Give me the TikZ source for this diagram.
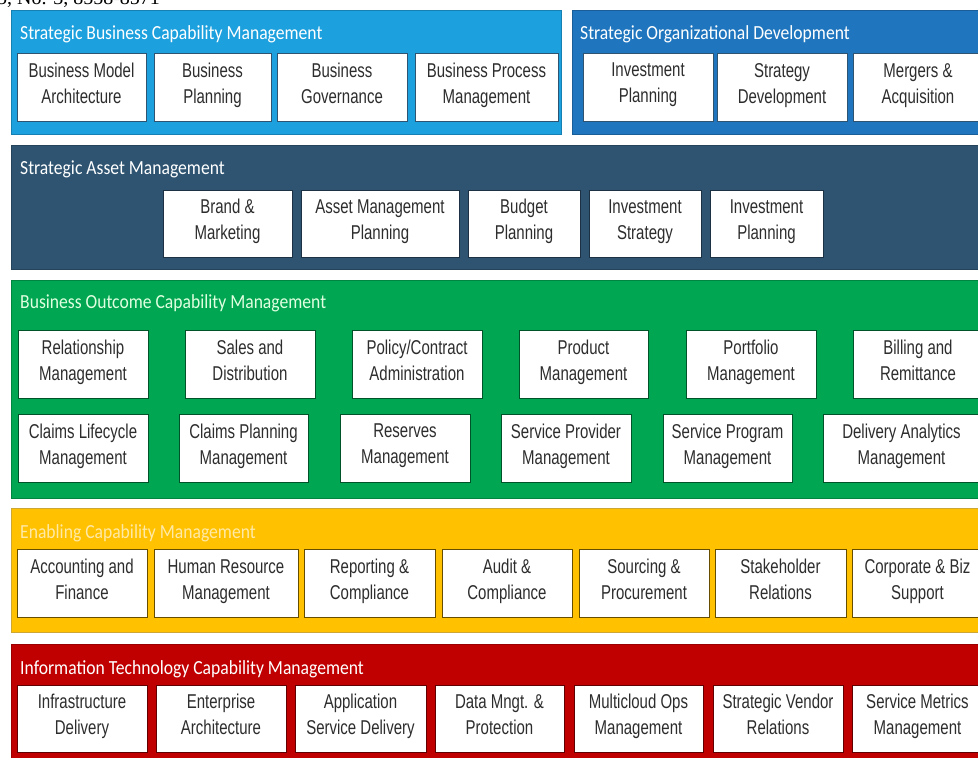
\documentclass[tikz,border=0pt]{standalone}
\usepackage{fontspec}
\setmainfont{Liberation Serif}
\newfontfamily\boxfont[FakeStretch=0.75]{Liberation Sans}
\newfontfamily\bandfont[FakeStretch=0.88]{Carlito}
\definecolor{sbcm}{RGB}{28,160,222}
\definecolor{sod}{RGB}{31,118,190}
\definecolor{sam}{RGB}{46,84,113}
\definecolor{bocm}{RGB}{0,166,81}
\definecolor{ecm}{RGB}{255,193,0}
\definecolor{itcm}{RGB}{192,0,0}
\definecolor{boxtext}{RGB}{45,45,45}
\tikzset{
  band/.style={fill=#1, draw=#1!80!black, line width=1pt},
  cap/.style={draw=#1, fill=white, line width=1pt, align=center, inner sep=0pt,
    minimum height=68, text=boxtext, font=\boxfont\fontsize{20}{26}\selectfont,
    execute at begin node=\rule{0pt}{24pt}, execute at end node=\strut},
  ttl/.style={anchor=west, inner sep=0pt, text=white, font=\bandfont\fontsize{20}{24}\selectfont}
}
\begin{document}
\begin{tikzpicture}[x=1pt, y=-1pt]
\useasboundingbox (0,0) rectangle (978,758);
\clip (0,0) rectangle (978,758);

\node[anchor=base west, inner sep=0pt, font=\fontsize{20}{24}\selectfont] (hdr) at (-3,4) {5, No. 3, 8558-8571};

% bands
\draw[band=sbcm] (11,10) rectangle (561,134);
\draw[band=sod] (572,10) rectangle (990,134);
\draw[band=sam] (11,145) rectangle (990,269);
\draw[band=bocm] (11,280) rectangle (990,498);
\draw[band=ecm, draw=ecm!60!gray] (11,508) rectangle (990,632);
\draw[band=itcm] (11,644) rectangle (990,770);

\node[ttl] (t1) at (20,34) {Strategic Business Capability Management};
\node[ttl] (t2) at (580,34) {Strategic Organizational Development};
\node[ttl] (t3) at (20,169) {Strategic Asset Management};
\node[ttl, text=green!12] (t4) at (20,303) {Business Outcome Capability Management};
\node[ttl, text=ecm!35] (t5) at (20,533) {Enabling Capability Management};
\node[ttl] (t6) at (20,669) {Information Technology Capability Management};

% strategic business / organizational
\node[cap=sam, minimum width=129] (bma) at (81.5,87) {Business Model\\Architecture};
\node[cap=sam, minimum width=117] (bpl) at (212.5,87) {Business\\Planning};
\node[cap=sam, minimum width=130] (bgo) at (342,87) {Business\\Governance};
\node[cap=sam, minimum width=143] (bpm) at (486.5,87) {Business Process\\Management};
\node[cap=sam, minimum width=130] (ipl) at (648,87) {Investment\\Planning};
\node[cap=sam, minimum width=130] (sdv) at (782,87) {Strategy\\Development};
\node[cap=sam, minimum width=130] (mac) at (918,87) {Mergers \&\\Acquisition};

% strategic asset
\node[cap=sam!60!black, minimum width=129, minimum height=67] (brm) at (227.5,223.5) {Brand \&\\Marketing};
\node[cap=sam!60!black, minimum width=158, minimum height=67] (amp) at (380,223.5) {Asset Management\\Planning};
\node[cap=sam!60!black, minimum width=112, minimum height=67] (bud) at (524,223.5) {Budget\\Planning};
\node[cap=sam!60!black, minimum width=112, minimum height=67] (ist) at (645,223.5) {Investment\\Strategy};
\node[cap=sam!60!black, minimum width=113, minimum height=67] (ipa) at (766.5,223.5) {Investment\\Planning};

% business outcome
\node[cap=bocm!50!black, minimum width=130] (rlm) at (83,364) {Relationship\\Management};
\node[cap=bocm!50!black, minimum width=130] (sdi) at (250,364) {Sales and\\Distribution};
\node[cap=bocm!50!black, minimum width=130] (pca) at (417,364) {Policy/Contract\\Administration};
\node[cap=bocm!50!black, minimum width=129] (pdm) at (583.5,364) {Product\\Management};
\node[cap=bocm!50!black, minimum width=130] (pfm) at (751,364) {Portfolio\\Management};
\node[cap=bocm!50!black, minimum width=130] (bar) at (918,364) {Billing and\\Remittance};
\node[cap=bocm!50!black, minimum width=130] (clm) at (83,448) {Claims Lifecycle\\Management};
\node[cap=bocm!50!black, minimum width=129] (cpm) at (243.5,448) {Claims Planning\\Management};
\node[cap=bocm!50!black, minimum width=130] (rsm) at (405,448) {Reserves\\Management};
\node[cap=bocm!50!black, minimum width=130] (spm) at (566,448) {Service Provider\\Management};
\node[cap=bocm!50!black, minimum width=129] (sgm) at (727.5,448) {Service Program\\Management};
\node[cap=bocm!50!black, minimum width=157] (dam) at (901.5,448) {Delivery Analytics\\Management};

% enabling
\node[cap=ecm!40!black, minimum width=130] (acf) at (82,583.5) {Accounting and\\Finance};
\node[cap=ecm!40!black, minimum width=144] (hrm) at (226,583.5) {Human Resource\\Management};
\node[cap=ecm!40!black, minimum width=131] (rpc) at (369.5,583.5) {Reporting \&\\Compliance};
\node[cap=ecm!40!black, minimum width=130] (auc) at (507,583.5) {Audit \&\\Compliance};
\node[cap=ecm!40!black, minimum width=130] (spr) at (644,583.5) {Sourcing \&\\Procurement};
\node[cap=ecm!40!black, minimum width=131] (shr) at (780.5,583.5) {Stakeholder\\Relations};
\node[cap=ecm!40!black, minimum width=131] (cbs) at (917.5,583.5) {Corporate \& Biz\\Support};

% information technology
\node[cap=itcm!50!black, minimum width=130, minimum height=67] (ifd) at (82,718.5) {Infrastructure\\Delivery};
\node[cap=itcm!50!black, minimum width=130, minimum height=67] (ent) at (221,718.5) {Enterprise\\Architecture};
\node[cap=itcm!50!black, minimum width=131, minimum height=67] (asd) at (360.5,718.5) {Application\\Service Delivery};
\node[cap=itcm!50!black, minimum width=129, minimum height=67] (dmp) at (499.5,718.5) {Data Mngt. \&\\Protection};
\node[cap=itcm!50!black, minimum width=129, minimum height=67] (mom) at (638.5,718.5) {Multicloud Ops\\Management};
\node[cap=itcm!50!black, minimum width=130, minimum height=67] (svr) at (778,718.5) {Strategic Vendor\\Relations};
\node[cap=itcm!50!black, minimum width=131, minimum height=67] (smm) at (917.5,718.5) {Service Metrics\\Management};
\end{tikzpicture}
\end{document}
